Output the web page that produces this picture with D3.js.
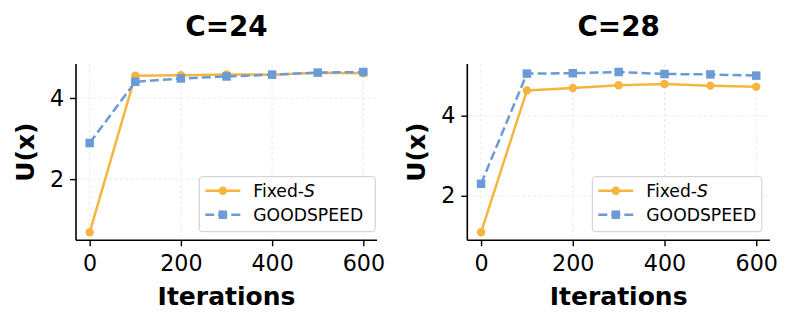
<!DOCTYPE html>
<html>
<head>
<meta charset="utf-8">
<script src="https://cdn.jsdelivr.net/npm/d3@7"></script>
<style>
  body { margin: 0; background: #fff; }
  svg { display: block; }
  text { font-family: "DejaVu Sans", sans-serif; }
</style>
</head>
<body>
<svg id="chart" width="793" height="324"></svg>
<script>
// ---- data ----
const iterations = [0, 100, 200, 300, 400, 500, 600];
const panelTitles = ["C=24", "C=28"];
const fixedS_C24 = [0.69, 4.55, 4.56, 4.58, 4.575, 4.62, 4.61];
const goodspeed_C24 = [2.89, 4.40, 4.48, 4.53, 4.575, 4.625, 4.64];
const fixedS_C28 = [1.09, 4.63, 4.69, 4.76, 4.79, 4.75, 4.72];
const goodspeed_C28 = [2.30, 5.05, 5.06, 5.09, 5.04, 5.03, 5.00];
const xTicks = [0, 200, 400, 600];
const yTicks = [2, 4];
const seriesNames = ["Fixed-", "GOODSPEED"];

// ---- layout ----
const svg = d3.select("#chart");
const orange = "#F5B53F";
const blue = "#6A9BD6";
const panels = [
  { left: 76, right: 377, top: 64, bottom: 240.3, title: panelTitles[0],
    fixed: fixedS_C24, good: goodspeed_C24, legend: { x: 199.3, y: 176.7, w: 176, h: 55 } },
  { left: 467.3, right: 770, top: 64, bottom: 240.3, title: panelTitles[1],
    fixed: fixedS_C28, good: goodspeed_C28, legend: { x: 592.3, y: 176.7, w: 169.5, h: 55 } }
];

panels.forEach(p => {
  const all = p.fixed.concat(p.good);
  const ymin = d3.min(all), ymax = d3.max(all);
  const ym = 0.05 * (ymax - ymin);
  const x = d3.scaleLinear().domain([-30, 630]).range([p.left, p.right]);
  const y = d3.scaleLinear().domain([ymin - ym, ymax + ym]).range([p.bottom, p.top]);
  const g = svg.append("g");

  // grid
  g.append("g").selectAll("line").data(xTicks).join("line")
    .attr("x1", d => x(d)).attr("x2", d => x(d))
    .attr("y1", p.top).attr("y2", p.bottom)
    .attr("stroke", "#e3e3e3").attr("stroke-width", 0.8).attr("stroke-dasharray", "3,2.5");
  g.append("g").selectAll("line").data(yTicks).join("line")
    .attr("x1", p.left).attr("x2", p.right)
    .attr("y1", d => y(d)).attr("y2", d => y(d))
    .attr("stroke", "#e3e3e3").attr("stroke-width", 0.8).attr("stroke-dasharray", "3,2.5");

  // axes
  const xAxis = d3.axisBottom(x).tickValues(xTicks).tickSize(6).tickPadding(8.5).tickFormat(d3.format("d"));
  const yAxis = d3.axisLeft(y).tickValues(yTicks).tickSize(6).tickPadding(6).tickFormat(d3.format("d"));
  const xg = g.append("g").attr("transform", `translate(0,${p.bottom})`).call(xAxis);
  const yg = g.append("g").attr("transform", `translate(${p.left},0)`).call(yAxis);
  [xg, yg].forEach(a => {
    a.select(".domain").attr("stroke", "#000").attr("stroke-width", 1.6);
    a.selectAll(".tick line").attr("stroke", "#000").attr("stroke-width", 1.4);
    a.selectAll(".tick text").attr("fill", "#000").style("font-size", "22.2px")
      .style("font-family", "DejaVu Sans, sans-serif");
  });
  xg.select(".domain").attr("d", `M${p.left},0H${p.right}`);
  yg.select(".domain").attr("d", `M0,${p.bottom}V${p.top}`);

  // lines
  const line = d3.line().x((d, i) => x(iterations[i])).y(d => y(d));
  g.append("path").datum(p.fixed).attr("d", line)
    .attr("fill", "none").attr("stroke", orange).attr("stroke-width", 2.5);
  g.append("g").selectAll("circle").data(p.fixed).join("circle")
    .attr("cx", (d, i) => x(iterations[i])).attr("cy", d => y(d)).attr("r", 4.2).attr("fill", orange);
  g.append("path").datum(p.good).attr("d", line)
    .attr("fill", "none").attr("stroke", blue).attr("stroke-width", 2.5).attr("stroke-dasharray", "9,4");
  const sq = 8.5;
  g.append("g").selectAll("rect").data(p.good).join("rect")
    .attr("x", (d, i) => x(iterations[i]) - sq / 2).attr("y", d => y(d) - sq / 2)
    .attr("width", sq).attr("height", sq).attr("fill", blue);

  // title
  g.append("text").attr("x", (p.left + p.right) / 2).attr("y", 36)
    .attr("text-anchor", "middle").style("font-size", "27.8px").style("font-weight", "bold")
    .text(p.title);
  // x label
  g.append("text").attr("x", (p.left + p.right) / 2).attr("y", 304.5)
    .attr("text-anchor", "middle").style("font-size", "25px").style("font-weight", "bold")
    .text("Iterations");
  // y label
  g.append("text").attr("transform", `translate(${p.left - 42},${(p.top + p.bottom) / 2 }) rotate(-90)`)
    .attr("text-anchor", "middle").style("font-size", "25px").style("font-weight", "bold")
    .text("U(x)");

  // legend
  const L = p.legend;
  const lg = g.append("g");
  lg.append("rect").attr("x", L.x).attr("y", L.y).attr("width", L.w).attr("height", L.h)
    .attr("rx", 3).attr("fill", "#fff").attr("fill-opacity", 0.85)
    .attr("stroke", "#cccccc").attr("stroke-width", 1);
  const hx0 = L.x + 6, hx1 = L.x + 41, ty0 = L.y + 14, ty1 = L.y + 38;
  lg.append("line").attr("x1", hx0).attr("x2", hx1).attr("y1", ty0).attr("y2", ty0)
    .attr("stroke", orange).attr("stroke-width", 2.5);
  lg.append("circle").attr("cx", (hx0 + hx1) / 2).attr("cy", ty0).attr("r", 4.2).attr("fill", orange);
  lg.append("line").attr("x1", hx0).attr("x2", hx1).attr("y1", ty1).attr("y2", ty1)
    .attr("stroke", blue).attr("stroke-width", 2.5).attr("stroke-dasharray", "9,4");
  lg.append("rect").attr("x", (hx0 + hx1) / 2 - sq / 2).attr("y", ty1 - sq / 2)
    .attr("width", sq).attr("height", sq).attr("fill", blue);
  const t1 = lg.append("text").attr("x", hx1 + 13).attr("y", ty0).attr("dy", "0.35em")
    .style("font-size", "17.2px");
  t1.append("tspan").text(seriesNames[0]);
  t1.append("tspan").style("font-style", "italic").text("S");
  lg.append("text").attr("x", hx1 + 13).attr("y", ty1).attr("dy", "0.35em")
    .style("font-size", "17.2px").text(seriesNames[1]);
});
</script>
</body>
</html>
